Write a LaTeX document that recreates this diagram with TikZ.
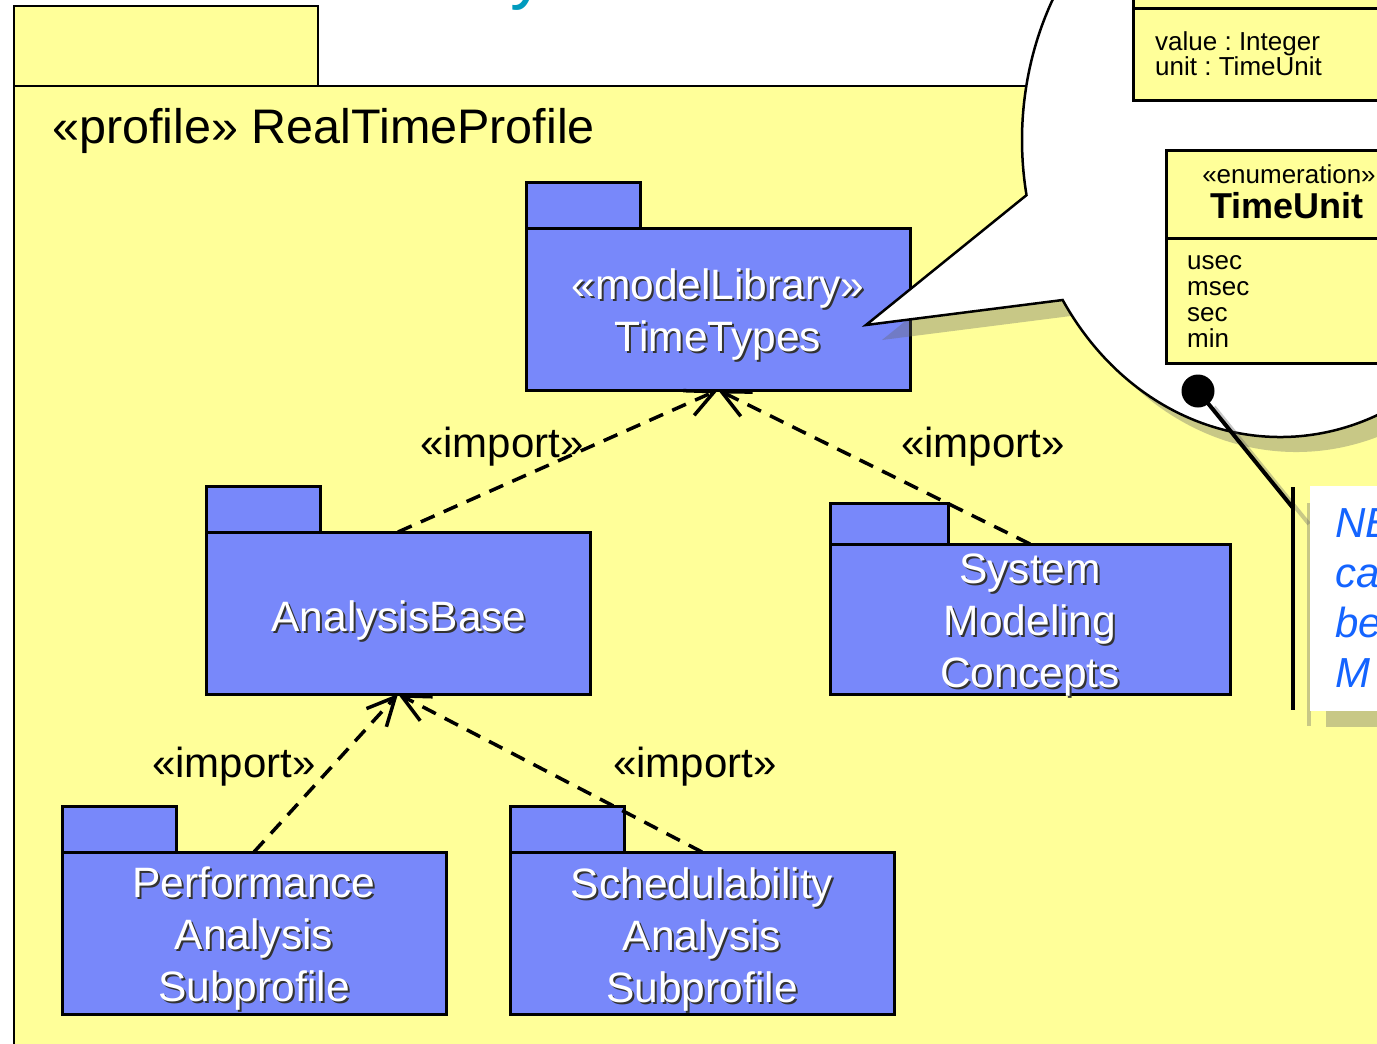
\documentclass[tikz,border=0pt]{standalone}
\usepackage{fontspec}
\setmainfont{Liberation Sans}
\usetikzlibrary{arrows.meta}

\definecolor{profileyellow}{RGB}{255,255,153}
\definecolor{pkgblue}{RGB}{120,136,250}
\definecolor{titlecyan}{RGB}{0,155,190}
\definecolor{noteblue}{RGB}{20,100,255}
\definecolor{shadowgray}{RGB}{100,100,100}

\begin{document}
\frenchspacing
\begin{tikzpicture}[x=1pt,y=-1pt,
  pkg/.style={draw=black, line width=3pt, fill=pkgblue, rectangle, inner sep=0pt, outer sep=0pt},
  pkgtext/.style={text=white, font=\fontsize{42.5}{52}\selectfont, align=center, inner sep=0pt, anchor=north},
  pkgshadow/.style={pkgtext, text=black!80, xshift=2pt, yshift=-2pt},
  importdep/.style={line width=3.5pt, dash pattern=on 15pt off 10pt,
    -{Straight Barb[length=28pt,width=27pt,line width=3.5pt]}},
  stereo/.style={font=\fontsize{42}{48}\selectfont, anchor=base, inner sep=0pt},
  dropshadow/.style={fill=shadowgray, fill opacity=0.35, draw=none},
  classbox/.style={draw=black, line width=3pt, fill=profileyellow},
  classtext/.style={font=\fontsize{26}{25}\selectfont, align=left, inner sep=0pt},
  bubbleoutline/.style={insert path={
    ([shift={(1280,140)}]169.3:258 and 297) -- (866,325)
    -- ([shift={(1280,140)}]147.4:258 and 297)
    arc[start angle=147.4, end angle=-190.7, x radius=258, y radius=297] -- cycle}}
]
\useasboundingbox (0,0) rectangle (1377,1044);
\begin{scope}
\clip (0,0) rectangle (1377,1044);
\fill[white] (0,0) rectangle (1377,1044);

% slide title, only its lowest stroke reaches the frame
\node[text=titlecyan, font=\fontsize{72}{80}\selectfont, anchor=base west, inner sep=0pt] (title) at (510,-5) {y};

% the enclosing profile package
\draw[line width=2.5pt, fill=profileyellow] (14,6) rectangle (318,86);
\draw[line width=2.5pt, fill=profileyellow] (14,86) rectangle (1500,1100);
\node[font=\fontsize{48.5}{52}\selectfont, anchor=base west, inner sep=0pt] (profile-name) at (52,143) {«profile» RealTimeProfile};

% TimeTypes
\node[pkg, minimum width=114pt, minimum height=46pt, anchor=south west] (tt-tab) at (526,228) {};
\node[pkg, minimum width=384pt, minimum height=162pt, anchor=north west] (tt) at (526,228) {};
\node[pkgshadow] (tt-shadow) at (718,269) {«modelLibrary»\\TimeTypes};
\node[pkgtext] (tt-label) at (718,269) {«modelLibrary»\\TimeTypes};

% AnalysisBase
\node[pkg, minimum width=114pt, minimum height=46pt, anchor=south west] (ab-tab) at (206,532) {};
\node[pkg, minimum width=384pt, minimum height=162pt, anchor=north west] (ab) at (206,532) {};
\node[pkgshadow] (ab-shadow) at (399,600) {AnalysisBase};
\node[pkgtext] (ab-label) at (399,600) {AnalysisBase};

% System Modeling Concepts
\node[pkg, minimum width=118pt, minimum height=41pt, anchor=south west] (smc-tab) at (830,544) {};
\node[pkg, minimum width=400pt, minimum height=150pt, anchor=north west] (smc) at (830,544) {};
\node[pkgshadow] (smc-shadow) at (1030,554) {System\\Modeling\\Concepts};
\node[pkgtext] (smc-label) at (1030,554) {System\\Modeling\\Concepts};

% Performance Analysis Subprofile
\node[pkg, minimum width=114pt, minimum height=46pt, anchor=south west] (pa-tab) at (62,852) {};
\node[pkg, minimum width=384pt, minimum height=162pt, anchor=north west] (pa) at (62,852) {};
\node[pkgshadow] (pa-shadow) at (254,867) {Performance\\Analysis\\Subprofile};
\node[pkgtext] (pa-label) at (254,867) {Performance\\Analysis\\Subprofile};

% Schedulability Analysis Subprofile
\node[pkg, minimum width=114pt, minimum height=46pt, anchor=south west] (sa-tab) at (510,852) {};
\node[pkg, minimum width=384pt, minimum height=162pt, anchor=north west] (sa) at (510,852) {};
\node[pkgshadow] (sa-shadow) at (702,867) {Schedulability\\Analysis\\Subprofile};
\node[pkgtext] (sa-label) at (702,867) {Schedulability\\Analysis\\Subprofile};

% import dependencies
\draw[importdep] (ab.north) -- (tt.south);
\draw[importdep] (smc.north) -- (tt.south);
\draw[importdep] (pa.north) -- (ab.south);
\draw[importdep] (sa.north) -- (ab.south);
\node[stereo] (imp-ab) at (502,457) {«import»};
\node[stereo] (imp-smc) at (983,457) {«import»};
\node[stereo] (imp-pa) at (234,777) {«import»};
\node[stereo] (imp-sa) at (695,777) {«import»};

% callout with the TimeTypes contents
\path[dropshadow, xshift=16pt, yshift=-15pt, bubbleoutline];
\draw[line width=2.5pt, fill=white, bubbleoutline];

\draw[classbox] (1133,-20) rectangle (1420,100);
\draw[line width=3pt] (1133,8) -- (1420,8);
\node[classtext, anchor=north west] (tv-attrs) at (1155,31.5) {value : Integer\\unit : TimeUnit};

\draw[classbox] (1166,150) rectangle (1420,363);
\draw[line width=3pt] (1166,238) -- (1420,238);
\node[font=\fontsize{26}{28}\selectfont, anchor=base, inner sep=0pt] (tu-stereo) at (1289,183) {«enumeration»};
\node[font=\fontsize{36}{40}\selectfont\bfseries, anchor=base, inner sep=0pt] (tu-name) at (1287,218) {TimeUnit};
\node[font=\fontsize{26}{26}\selectfont, align=left, inner sep=0pt, anchor=north west] (tu-literals) at (1187,255) {usec\\msec\\sec\\min};

% anchor dot and its link to the note
\node[circle, fill=black, minimum size=33pt, inner sep=0pt] (dot) at (1198,391) {};
\coordinate (bar-join) at (1293,508);
\draw[draw=shadowgray, draw opacity=0.35, line width=4pt] ([shift={(16,16)}]dot.center) -- ([shift={(16,16)}]bar-join);
\draw[draw=shadowgray, draw opacity=0.35, line width=4pt] (1309,503) -- (1309,726);
\fill[dropshadow] (1326,502) rectangle (1420,727);
\draw[line width=4pt] (dot.center) -- (bar-join);
\draw[line width=4pt] (1293,487) -- (1293,710);

% note
\node[fill=white, anchor=north west, minimum width=110pt, minimum height=225pt, inner sep=0pt] (note) at (1310,486) {};
\node[text=noteblue, font=\fontsize{42}{50}\selectfont\itshape, align=left, inner sep=0pt, anchor=north west] (note-text) at (1335,508) {NB\\ca\\be\\M};
\end{scope}
\end{tikzpicture}
\end{document}
